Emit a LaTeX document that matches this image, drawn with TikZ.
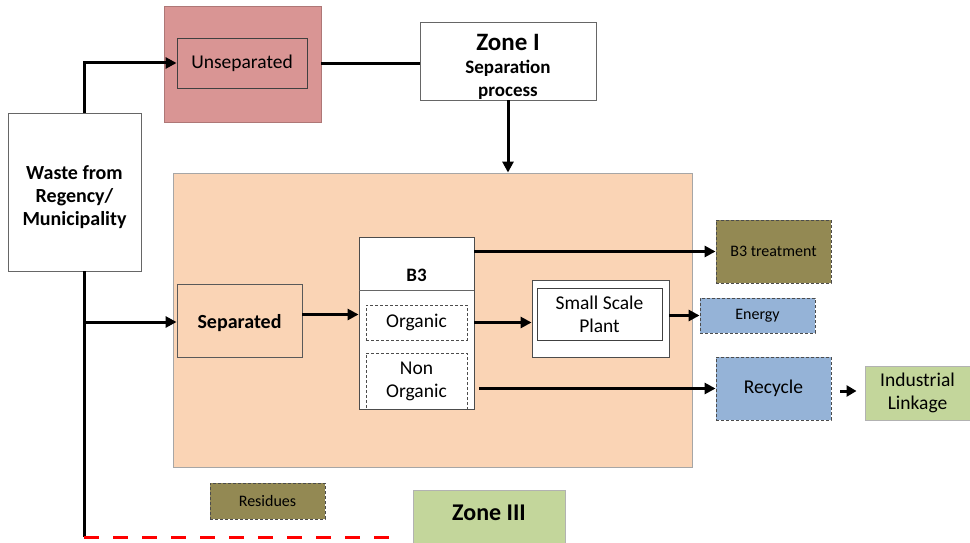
\documentclass[tikz,border=0pt]{standalone}
\usepackage{fontspec}
\setmainfont{Carlito}
\usetikzlibrary{arrows.meta}
\definecolor{pinkfill}{HTML}{D99594}
\definecolor{peach}{HTML}{FAD4B5}
\definecolor{olive}{HTML}{938953}
\definecolor{skyblue}{HTML}{95B3D7}
\definecolor{leaf}{HTML}{C3D69B}
\definecolor{edgegray}{HTML}{7F7F7F}
\begin{document}
\begin{tikzpicture}[x=1pt,y=-1pt,
  box/.style={draw=edgegray, line width=0.9pt, rectangle, inner sep=0pt, align=center},
  dbox/.style={box, dashed, dash pattern=on 3pt off 2pt, draw=black!70},
  arr/.style={line width=3pt, -{Triangle[length=11pt,width=11pt]}},
  plain/.style={line width=3pt},
  txt/.style={font=\fontsize{19.5}{23}\selectfont, align=center},
  btxt/.style={font=\bfseries\fontsize{20}{23}\selectfont, align=center},
  stxt/.style={font=\fontsize{16}{19}\selectfont, align=center}]
\useasboundingbox (0,0) rectangle (970,543);

% source of waste
\node[box, draw=black!60, fill=white, minimum width=133, minimum height=158] (waste) at (74.5,192) {};
\node[btxt] (wastelab) at (74.5,197) {Waste from\\Regency/\\Municipality};

% unseparated stream
\node[box, draw=pinkfill!80!black, fill=pinkfill, minimum width=157, minimum height=116] (unsep) at (242.5,64) {};
\node[box, draw=black!75, minimum width=130, minimum height=50, txt] (unsepin) at (242,63) {Unseparated};

% zone I
\node[box, draw=black!60, fill=white, minimum width=176, minimum height=78] (zone1) at (508,61) {};
\node[font=\bfseries\fontsize{25}{28}\selectfont] (z1title) at (508,42) {Zone I};
\node[align=center, font=\bfseries\fontsize{19}{23}\selectfont] (z1sub) at (508,80) {Separation\\process};

% separation area
\node[box, draw=black!35, fill=peach, minimum width=519, minimum height=294] (area) at (432.5,320) {};
\node[box, draw=black!65, fill=peach, minimum width=125, minimum height=73] (sep) at (239.5,320.5) {};
\node[btxt] (seplab) at (239.5,323.5) {Separated};

% B3 container with compartments
\node[box, draw=black!70, fill=white, minimum width=115, minimum height=172] (b3) at (416.5,323) {};
\draw[draw=black!60, line width=0.9pt] (359,290) -- (474,290);
\node[btxt, font=\bfseries\fontsize{19}{22}\selectfont] (b3lab) at (416.5,275) {B3};
\node[dbox, minimum width=101, minimum height=35, txt] (org) at (416.5,322.5) {Organic};
\node[dbox, minimum width=101, minimum height=56, txt] (nonorg) at (416.5,381) {Non\\Organic};

% plant
\node[box, draw=black!70, fill=white, minimum width=137, minimum height=77] (sspo) at (600.5,318.5) {};
\node[box, draw=black!75, minimum width=125, minimum height=52, txt] (sspi) at (599.5,314) {Small Scale\\Plant};

% outputs
\node[dbox, fill=olive, minimum width=115, minimum height=63, stxt] (b3t) at (773.5,251.5) {B3 treatment};
\node[dbox, fill=skyblue, minimum width=115, minimum height=35, stxt] (energy) at (757.5,315.5) {Energy};
\node[dbox, fill=skyblue, minimum width=115, minimum height=63, txt] (recycle) at (773.5,388.5) {Recycle};
\node[box, draw=black!30, fill=leaf, minimum width=105, minimum height=54, txt] (ind) at (917.5,393) {Industrial\\Linkage};

% residues and zone III
\node[dbox, fill=olive, minimum width=115, minimum height=36, stxt] (res) at (267.5,501) {Residues};
\node[box, draw=black!30, fill=leaf, minimum width=152, minimum height=62] (zone3) at (489,521) {};
\node[font=\bfseries\fontsize{24}{28}\selectfont] (z3lab) at (489,513) {Zone III};

% connectors
\coordinate (branch) at (84,322);
\coordinate (corner) at (84,537);
\coordinate (redend) at (400,537);
\coordinate (linkstart) at (840,391);
\draw[arr] ([xshift=9.5pt]waste.north) |- (unsepin.west);
\draw[plain] (unsep.east) -- (unsep.east -| zone1.west);
\draw[arr] (zone1.south) -- (zone1.south |- area.north);
\draw[plain] ([xshift=9.5pt]waste.south) -- (corner);
\draw[red, line width=3pt, dash pattern=on 15pt off 14pt] (corner) -- (redend);
\draw[arr] (branch) -- (branch -| sep.west);
\draw[arr] ([yshift=6pt]sep.east) -- ([yshift=6pt]sep.east -| b3.west);
\draw[arr] (b3t.west -| b3.east) -- (b3t.west);
\draw[arr] (org.east -| b3.east) -- (org.east -| sspo.west);
\draw[arr] (sspo.east |- energy.west) -- (energy.west);
\draw[arr] ([xshift=5pt]recycle.west -| b3.east) -- (recycle.west);
\draw[arr, -{Triangle[length=10pt,width=11pt]}] (linkstart) -- ([xshift=-8pt]linkstart -| ind.west);
\end{tikzpicture}
\end{document}
